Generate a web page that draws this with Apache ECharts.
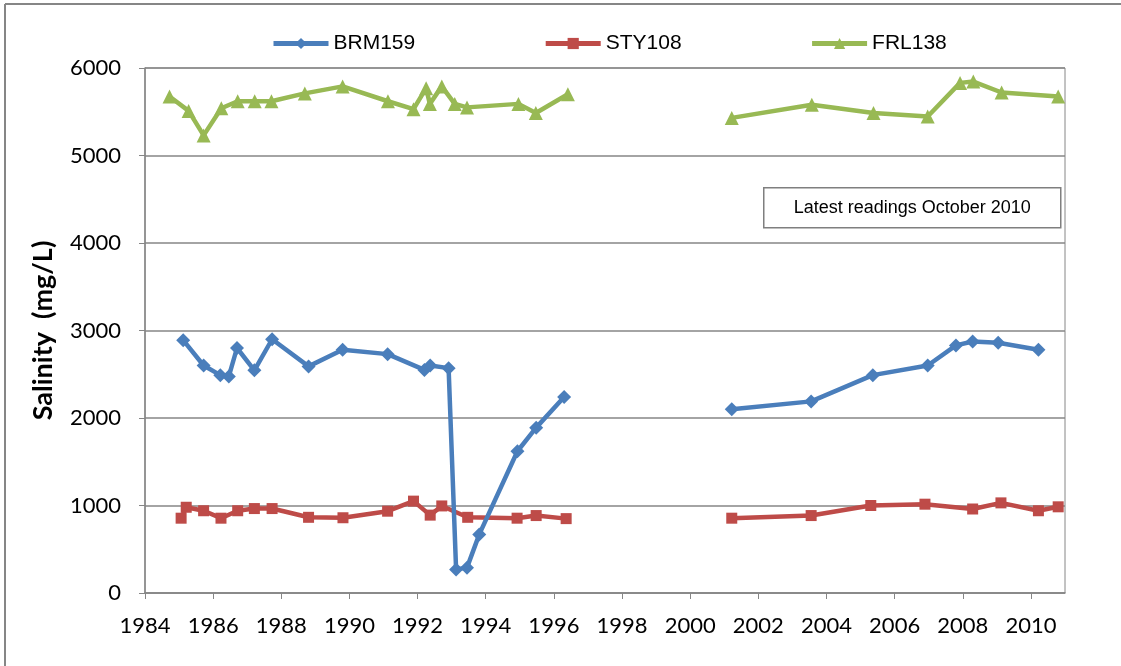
<!DOCTYPE html>
<html>
<head>
<meta charset="utf-8">
<title>Salinity</title>
<script src="https://cdn.jsdelivr.net/npm/echarts@6/dist/echarts.min.js"></script>
<style>
  html, body { margin: 0; padding: 0; background: #fff; }
  #chart { width: 1121px; height: 666px; }
</style>
</head>
<body>
<div id="chart"></div>
<script>
// readings before and after the 1996-2001 gap
const brmYears1 = [1985.12, 1985.72, 1986.21, 1986.46, 1986.70, 1987.21, 1987.73, 1988.80, 1989.80, 1991.12, 1992.20, 1992.37, 1992.91, 1993.13, 1993.45, 1993.81, 1994.93, 1995.48, 1996.30];
const brmValues1 = [2890, 2600, 2490, 2475, 2800, 2545, 2900, 2590, 2780, 2730, 2550, 2600, 2570, 270, 290, 670, 1620, 1890, 2240];
const brmYears2 = [2001.22, 2003.55, 2005.36, 2006.97, 2007.80, 2008.29, 2009.04, 2010.22];
const brmValues2 = [2100, 2190, 2490, 2600, 2830, 2875, 2860, 2780];

const styYears1 = [1985.06, 1985.21, 1985.72, 1986.23, 1986.72, 1987.21, 1987.73, 1988.80, 1989.81, 1991.12, 1991.88, 1992.37, 1992.71, 1993.47, 1994.92, 1995.48, 1996.36];
const styValues1 = [855, 980, 940, 855, 940, 965, 965, 865, 860, 935, 1050, 890, 995, 865, 855, 885, 850];
const styYears2 = [2001.22, 2003.55, 2005.30, 2006.89, 2008.29, 2009.12, 2010.22, 2010.80];
const styValues2 = [855, 885, 1000, 1015, 960, 1030, 940, 985];

const frlYears1 = [1984.72, 1985.28, 1985.72, 1986.24, 1986.72, 1987.22, 1987.71, 1988.69, 1989.80, 1991.13, 1991.88, 1992.25, 1992.36, 1992.71, 1993.09, 1993.45, 1994.96, 1995.47, 1996.41];
const frlValues1 = [5675, 5510, 5230, 5540, 5620, 5620, 5620, 5710, 5790, 5620, 5530, 5770, 5590, 5790, 5590, 5550, 5590, 5485, 5700];
const frlYears2 = [2001.22, 2003.57, 2005.38, 2006.97, 2007.92, 2008.31, 2009.14, 2010.80];
const frlValues2 = [5430, 5580, 5485, 5445, 5830, 5845, 5720, 5675];

const tickYears = [1984, 1986, 1988, 1990, 1992, 1994, 1996, 1998, 2000, 2002, 2004, 2006, 2008, 2010];
const seriesNames = ["BRM159", "STY108", "FRL138"];
const noteText = "Latest readings October 2010";

function pairs(xs, ys) {
  return xs.map((x, i) => [x, ys[i]]);
}
// '-' item breaks the line between the two sampling periods
function joinGap(a, b) {
  return a.concat([["-", "-"]], b);
}

const gridColor = "#868686";
let chart = echarts.init(document.getElementById("chart"));
let option = {
  animation: false,
  backgroundColor: "#fff",
  legend: {
    left: 266,
    top: 28,
    itemWidth: 55,
    itemHeight: 14,
    itemGap: 128,
    lineStyle: { width: 5 },
    textStyle: { fontFamily: "Liberation Sans", fontSize: 21, color: "#000" },
    data: seriesNames,
  },
  grid: {
    left: 145,
    right: 56,
    top: 68,
    bottom: 73,
    show: true,
    borderColor: gridColor,
    borderWidth: 1,
  },
  xAxis: {
    type: "value",
    min: 1984,
    max: 2011,
    interval: 2,
    splitLine: { show: false },
    axisLine: { lineStyle: { color: gridColor, width: 1.5 } },
    axisTick: { customValues: tickYears, length: 6, lineStyle: { color: gridColor } },
    axisLabel: {
      customValues: tickYears,
      margin: 22,
      fontFamily: "Lato",
      fontSize: 22,
      color: "#000",
      formatter: (v) => String(v),
    },
  },
  yAxis: {
    type: "value",
    min: 0,
    max: 6000,
    interval: 1000,
    name: "Salinity  (mg/L)",
    nameLocation: "middle",
    nameGap: 88,
    nameTextStyle: { fontFamily: "Lato", fontWeight: "bold", fontSize: 27, color: "#000" },
    axisLine: { show: true, lineStyle: { color: gridColor, width: 1.5 } },
    axisTick: { show: true, length: 6, lineStyle: { color: gridColor } },
    splitLine: { lineStyle: { color: gridColor, width: 1.5 } },
    axisLabel: {
      margin: 24,
      fontFamily: "Lato",
      fontSize: 22,
      color: "#000",
      formatter: (v) => String(v),
    },
  },
  series: [
    {
      name: seriesNames[0],
      type: "line",
      data: joinGap(pairs(brmYears1, brmValues1), pairs(brmYears2, brmValues2)),
      symbol: "diamond",
      symbolSize: 14,
      connectNulls: false,
      itemStyle: { color: "#4A7EBB" },
      lineStyle: { color: "#4A7EBB", width: 4.5 },
      z: 3,
    },
    {
      name: seriesNames[1],
      type: "line",
      data: joinGap(pairs(styYears1, styValues1), pairs(styYears2, styValues2)),
      symbol: "rect",
      symbolSize: 11,
      connectNulls: false,
      itemStyle: { color: "#BE4B48" },
      lineStyle: { color: "#BE4B48", width: 4.5 },
      z: 2,
    },
    {
      name: seriesNames[2],
      type: "line",
      data: joinGap(pairs(frlYears1, frlValues1), pairs(frlYears2, frlValues2)),
      symbol: "triangle",
      symbolSize: 14,
      connectNulls: false,
      itemStyle: { color: "#98B954" },
      lineStyle: { color: "#98B954", width: 4.5 },
      z: 2,
    },
  ],
  graphic: [
    // outer chart frame
    { type: "line", shape: { x1: 5, y1: 4, x2: 1121, y2: 4 }, style: { stroke: gridColor, lineWidth: 2 }, silent: true },
    { type: "line", shape: { x1: 5, y1: 4, x2: 5, y2: 666 }, style: { stroke: gridColor, lineWidth: 2 }, silent: true },
    {
      type: "group",
      left: 763,
      top: 187,
      children: [
        { type: "rect", shape: { x: 0, y: 0, width: 297, height: 40 }, style: { fill: "#fff", stroke: "#7f7f7f", lineWidth: 1.5 } },
        {
          type: "text",
          x: 148.5,
          y: 20,
          style: {
            text: noteText,
            fontFamily: "Liberation Sans",
            fontSize: 18,
            fill: "#000",
            align: "center",
            verticalAlign: "middle",
          },
        },
      ],
    },
  ],
};
chart.setOption(option);
window.addEventListener("resize", () => {
  chart.resize();
});
</script>
</body>
</html>
